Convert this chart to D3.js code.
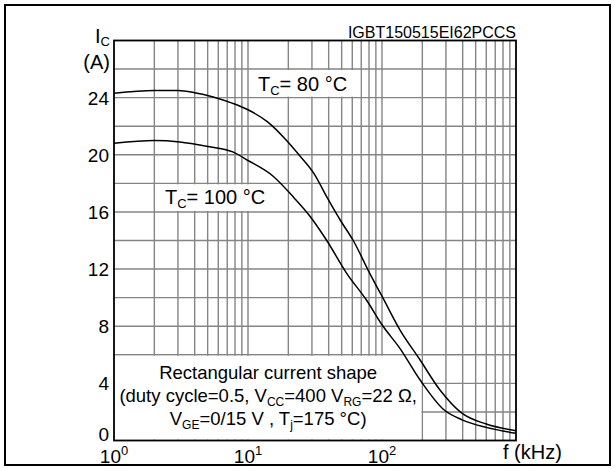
<!DOCTYPE html>
<html><head><meta charset="utf-8">
<script src="https://cdn.jsdelivr.net/npm/d3@7"></script>
<style>body{margin:0;background:#fff;} text{font-family:"Liberation Sans",Arial,sans-serif;fill:#000;}</style>
</head><body>
<script>
// ---- data ----
const freq80 = [1, 2, 3, 4, 5.5, 7.7, 10, 14, 19.4, 24.5, 31, 39, 49, 61, 81, 100, 136, 192, 270, 390, 600, 1000];
const ic80   = [24.3, 24.5, 24.5, 24.35, 24.05, 23.6, 23.15, 22.3, 21.0, 19.9, 18.7, 17.0, 15.4, 14.0, 11.7, 10.1, 7.75, 5.65, 3.55, 1.95, 1.15, 0.69];
const freq100 = [1, 2, 3.1, 4.9, 7.7, 10, 15.4, 22, 29, 38.7, 54.5, 77, 100, 136, 192, 290, 400, 600, 1000];
const ic100   = [20.8, 21.0, 20.9, 20.6, 20.2, 19.6, 18.5, 17.0, 15.7, 14.0, 11.7, 9.8, 8.1, 6.45, 4.25, 2.15, 1.43, 0.92, 0.5];
const yTicks = [0, 4, 8, 12, 16, 20, 24];
const xTickExps = [0, 1, 2];
const chartId = "IGBT150515EI62PCCS";

const W = 615, H = 469;
const svg = d3.select("body").append("svg").attr("width", W).attr("height", H);
svg.append("rect").attr("width", W).attr("height", H).attr("fill", "#fff");
svg.append("rect").attr("x", 5).attr("y", 5).attr("width", 605).attr("height", 460)
  .attr("fill", "none").attr("stroke", "#000").attr("stroke-width", 2);

const x = d3.scaleLog().domain([1, 1000]).range([114, 516]);
const y = d3.scaleLinear().domain([0, 28]).range([440.5, 40.5]);

// grid
const gridColor = "#858585";
const g = svg.append("g");
const vLines = [];
for (let k = 0; k < 3; k++) for (let m = 1; m <= 9; m++) { const v = m * Math.pow(10, k); if (v > 1) vLines.push(v); }
g.selectAll(".vg").data(vLines).enter().append("line")
  .attr("x1", d => x(d)).attr("x2", d => x(d)).attr("y1", y(0)).attr("y2", y(28))
  .attr("stroke", gridColor).attr("stroke-width", 1.4);
const hLines = d3.range(2, 28, 2);
g.selectAll(".hg").data(hLines).enter().append("line")
  .attr("x1", x(1)).attr("x2", x(1000)).attr("y1", d => y(d)).attr("y2", d => y(d))
  .attr("stroke", gridColor).attr("stroke-width", 1.4);

// white label boxes (hide grid)
function box(f0, f1, i0, i1) {
  svg.append("rect").attr("x", x(f0) + 1).attr("y", y(i1) + 1)
    .attr("width", x(f1) - x(f0) - 2).attr("height", y(i0) - y(i1) - 2).attr("fill", "#fff");
}
box(10, 70, 24, 26);
box(2, 20, 16, 18);
box(1, 200, 0, 6);

// curves
const line = d3.line().x(d => x(d[0])).y(d => y(d[1])).curve(d3.curveMonotoneX);
[[freq80, ic80], [freq100, ic100]].forEach(([f, v]) => {
  svg.append("path").datum(f.map((d, i) => [d, v[i]])).attr("d", line)
    .attr("fill", "none").attr("stroke", "#000").attr("stroke-width", 1.5);
});

// frame
svg.append("rect").attr("x", x(1)).attr("y", y(28)).attr("width", x(1000) - x(1)).attr("height", y(0) - y(28))
  .attr("fill", "none").attr("stroke", "#000").attr("stroke-width", 1.8);

// y tick labels
svg.selectAll(".yt").data(yTicks).enter().append("text")
  .attr("x", 109).attr("y", d => d === 0 ? y(0) : y(d) + 7)
  .attr("text-anchor", "end").attr("font-size", 19).text(d => d);

// x tick labels
xTickExps.forEach(e => {
  const t = svg.append("text").attr("x", x(Math.pow(10, e))).attr("y", 463)
    .attr("text-anchor", "middle").attr("font-size", 19);
  t.append("tspan").text("10");
  t.append("tspan").attr("dy", -8).attr("font-size", 13).text(e);
});

// axis titles
const ic = svg.append("text").attr("x", 110).attr("y", 43).attr("text-anchor", "end").attr("font-size", 20);
ic.append("tspan").text("I");
ic.append("tspan").attr("dy", 3).attr("font-size", 13).text("C");
svg.append("text").attr("x", 110).attr("y", 69).attr("text-anchor", "end").attr("font-size", 20).text("(A)");
svg.append("text").attr("x", 503).attr("y", 459).attr("font-size", 20).text("f (kHz)");
svg.append("text").attr("x", 516).attr("y", 38).attr("text-anchor", "end").attr("font-size", 16).text(chartId);

// curve labels
function tcLabel(xp, yp, val) {
  const t = svg.append("text").attr("x", xp).attr("y", yp).attr("font-size", 20);
  t.append("tspan").text("T");
  t.append("tspan").attr("dy", 4).attr("font-size", 13).text("C");
  t.append("tspan").attr("dy", -4).text("= " + val + " °C");
}
tcLabel(258, 91, 80);
tcLabel(165, 204, 100);

// bottom box text
const cx = (x(1) + x(200)) / 2;
const fs = 18.5, sfs = 12;
svg.append("text").attr("x", cx).attr("y", 378.5).attr("text-anchor", "middle").attr("font-size", fs)
  .text("Rectangular current shape");
const l2 = svg.append("text").attr("x", cx).attr("y", 402).attr("text-anchor", "middle").attr("font-size", fs);
l2.append("tspan").text("(duty cycle=0.5, V");
l2.append("tspan").attr("dy", 3.5).attr("font-size", sfs).text("CC");
l2.append("tspan").attr("dy", -3.5).text("=400 V");
l2.append("tspan").attr("dy", 3.5).attr("font-size", sfs).text("RG");
l2.append("tspan").attr("dy", -3.5).text("=22 Ω,");
const l3 = svg.append("text").attr("x", cx).attr("y", 425).attr("text-anchor", "middle").attr("font-size", fs);
l3.append("tspan").text("V");
l3.append("tspan").attr("dy", 3.5).attr("font-size", sfs).text("GE");
l3.append("tspan").attr("dy", -3.5).text("=0/15 V , T");
l3.append("tspan").attr("dy", 3.5).attr("font-size", sfs).text("j");
l3.append("tspan").attr("dy", -3.5).text("=175 °C)");
</script>
</body></html>
